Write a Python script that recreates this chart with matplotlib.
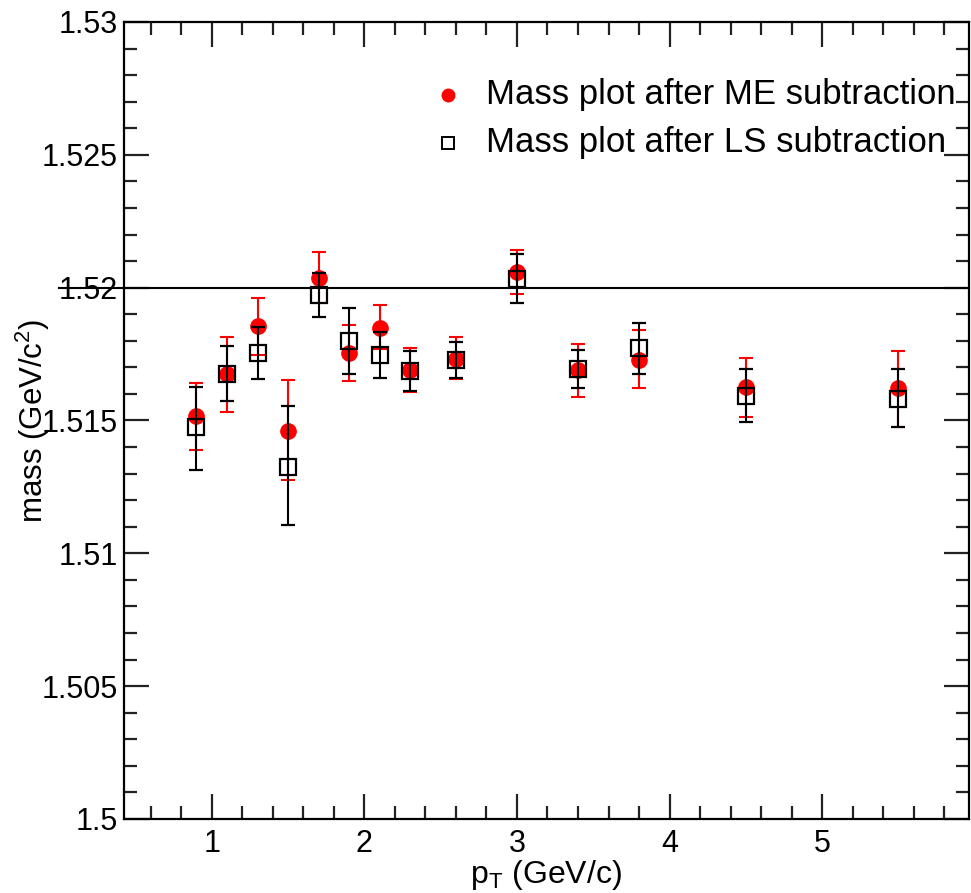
import matplotlib
matplotlib.use("Agg")
import matplotlib.pyplot as plt
from matplotlib.ticker import MultipleLocator, FixedLocator

plt.rcParams['font.family'] = ['Liberation Sans', 'DejaVu Sans']
plt.rcParams['mathtext.fontset'] = 'custom'
plt.rcParams['mathtext.rm'] = 'Liberation Sans'
plt.rcParams['mathtext.it'] = 'Liberation Sans:italic'

pt = [0.9, 1.1, 1.3, 1.5, 1.7, 1.9, 2.1, 2.3, 2.6, 3.0, 3.4, 3.8, 4.5, 5.5]

me_mass = [1.51518, 1.51674, 1.51855, 1.51460, 1.52035, 1.51753, 1.51849,
           1.51690, 1.51730, 1.52060, 1.51690, 1.51727, 1.51625, 1.51621]
me_hi = [1.51640, 1.51813, 1.51960, 1.51652, 1.52133, 1.51859, 1.51934,
         1.51774, 1.51813, 1.52142, 1.51786, 1.51840, 1.51734, 1.51761]
me_lo = [1.51388, 1.51533, 1.51746, 1.51276, 1.51941, 1.51648, 1.51768,
         1.51608, 1.51655, 1.51975, 1.51587, 1.51621, 1.51514, 1.51476]

ls_mass = [1.51474, 1.51674, 1.51754, 1.51326, 1.51972, 1.51800, 1.51746,
           1.51687, 1.51727, 1.52032, 1.51694, 1.51774, 1.51593, 1.51581]
ls_hi = [1.51627, 1.51780, 1.51853, 1.51554, 1.52056, 1.51925, 1.51834,
         1.51761, 1.51794, 1.52126, 1.51765, 1.51868, 1.51694, 1.51694]
ls_lo = [1.51313, 1.51573, 1.51655, 1.51107, 1.51888, 1.51674, 1.51661,
         1.51611, 1.51659, 1.51941, 1.51621, 1.51674, 1.51493, 1.51474]

ref_mass = 1.52
ref_line_x = [0.0, 5.96]
labels = ["Mass plot after ME subtraction", "Mass plot after LS subtraction"]

XMIN, XMAX = 0.425, 5.96
YMIN, YMAX = 1.5, 1.53

fig = plt.figure(figsize=(9.71, 8.93), dpi=100)
ax = fig.add_axes([0.1277, 0.0829, 0.8699, 0.8925])

me_err = [[m - l for m, l in zip(me_mass, me_lo)], [h - m for m, h in zip(me_mass, me_hi)]]
ls_err = [[m - l for m, l in zip(ls_mass, ls_lo)], [h - m for m, h in zip(ls_mass, ls_hi)]]

ax.errorbar(pt, me_mass, yerr=me_err, fmt='o', color='red', ms=11,
            mec='red', ecolor='red', elinewidth=1.5, capsize=5, capthick=1.5, zorder=3)
ax.errorbar(pt, ls_mass, yerr=ls_err, fmt='s', color='black', ms=11,
            mfc='none', mec='black', mew=1.6, ecolor='black', elinewidth=1.5,
            capsize=5, capthick=1.5, zorder=4)

# reference line (extends left beyond the frame, over the tick label)
ax.plot(ref_line_x, [ref_mass, ref_mass], color='black', lw=1.5,
        clip_on=False, zorder=6)

ax.set_xlim(XMIN, XMAX)
ax.set_ylim(YMIN, YMAX)

ax.xaxis.set_major_locator(FixedLocator([1, 2, 3, 4, 5]))
ax.xaxis.set_minor_locator(MultipleLocator(0.2))
ax.yaxis.set_minor_locator(MultipleLocator(0.001))
ax.set_xticklabels(['1', '2', '3', '4', '5'])
ax.set_yticks([1.5, 1.505, 1.51, 1.515, 1.52, 1.525, 1.53])
ax.set_yticklabels(['1.5', '1.505', '1.51', '1.515', '1.52', '1.525', '1.53'])

ax.tick_params(which='both', direction='in', top=True, right=True, width=1.6,
               labelsize=22, color='#222222')
ax.tick_params(which='major', length=18)
ax.tick_params(which='minor', length=9.5)
ax.tick_params(axis='x', which='major', pad=7)
ax.tick_params(axis='y', which='major', pad=4.5)
for s in ax.spines.values():
    s.set_linewidth(1.6)

ax.set_xlabel(r'p$_{\rm T}$ (GeV/c)', fontsize=23)
ax.xaxis.label.set_va('baseline')
ax.xaxis.set_label_coords(0.5, -(883 - 819) / 797)
ax.set_ylabel(r'mass (GeV/c$^{2}$)', fontsize=22.5)
ax.yaxis.label.set_va('baseline')
ax.yaxis.set_label_coords((43 - 124) / 844.7, 0.5)

# legend (no frame, ROOT style)
leg_x = (448 - 124) / 844.7
txt_x = (486 - 124) / 844.7
rows = [1 - (95 - 22) / 797, 1 - (143 - 22) / 797]
ax.plot([leg_x], [rows[0]], 'o', color='red', ms=9, transform=ax.transAxes, clip_on=False)
ax.plot([leg_x], [rows[1]], 's', mfc='none', mec='black', mew=1.4, ms=9,
        transform=ax.transAxes, clip_on=False)
for lab, y in zip(labels, rows):
    ax.text(txt_x, y, lab, transform=ax.transAxes, fontsize=25, va='center', ha='left')

fig.savefig('out.png', dpi=100)
